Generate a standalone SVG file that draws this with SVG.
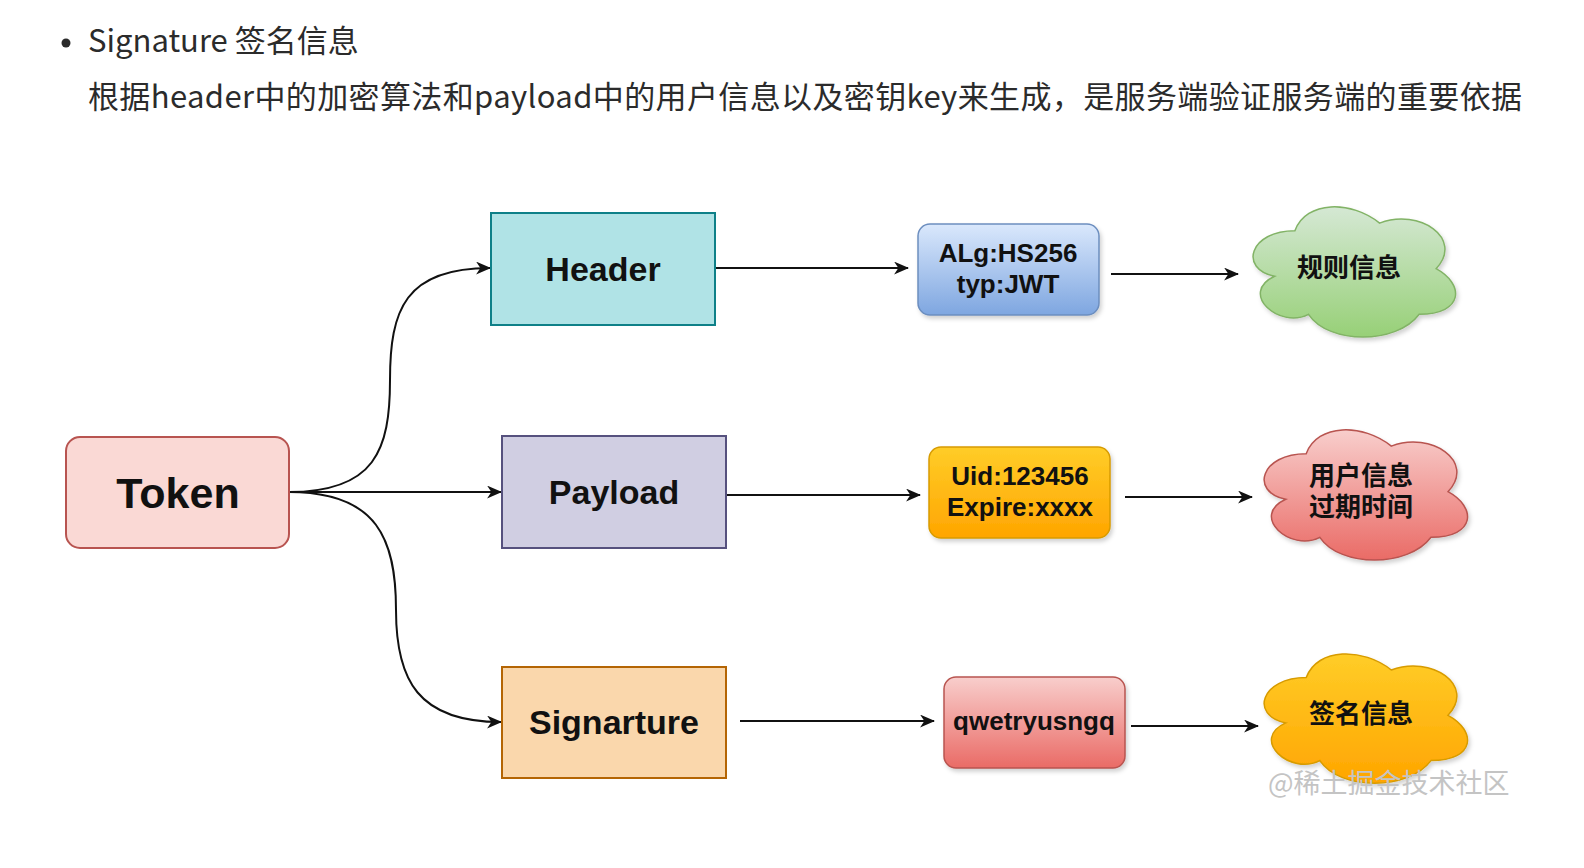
<svg xmlns="http://www.w3.org/2000/svg" width="1584" height="868" viewBox="0 0 1584 868">
<style>
.top{font-family:"Noto Sans CJK SC","Noto Sans",sans-serif;font-size:31px;fill:#2b2b2b}
.lbl{font-family:"Liberation Sans",Arial,sans-serif;font-weight:bold;fill:#111;text-anchor:middle}
.cj{font-family:"Noto Sans CJK SC",sans-serif;font-weight:bold;font-size:26px;fill:#111;text-anchor:middle}
.edge{fill:none;stroke:#111;stroke-width:2}
.wm{font-family:"Noto Sans CJK SC",sans-serif;font-size:27px;fill:#c4c4c4}
.cl{stroke-width:1.5}
</style>
<defs>
<marker id="arr" viewBox="0 0 14 12" refX="13" refY="6" markerWidth="15" markerHeight="13" markerUnits="userSpaceOnUse" orient="auto">
<path d="M0,0 L14,6 L0,12 L4,6 z" fill="#111"/>
</marker>
<linearGradient id="gBlue" x1="0" y1="0" x2="0" y2="1"><stop offset="0" stop-color="#dae8fc"/><stop offset="1" stop-color="#7ea6e0"/></linearGradient>
<linearGradient id="gOr" x1="0" y1="0" x2="0" y2="1"><stop offset="0" stop-color="#ffcd28"/><stop offset="1" stop-color="#ffa500"/></linearGradient>
<linearGradient id="gRed" x1="0" y1="0" x2="0" y2="1"><stop offset="0" stop-color="#f8cecc"/><stop offset="1" stop-color="#ea6b66"/></linearGradient>
<linearGradient id="gGreen" x1="0" y1="0" x2="0" y2="1"><stop offset="0" stop-color="#d5e8d4"/><stop offset="1" stop-color="#97d077"/></linearGradient>
<filter id="sh" x="-10%" y="-10%" width="130%" height="130%">
<feDropShadow dx="2" dy="3" stdDeviation="2" flood-color="#000" flood-opacity="0.18"/>
</filter>
</defs>
<rect width="1584" height="868" fill="#fff"/>

<g id="intro">
<circle cx="66" cy="43" r="4.5" fill="#2b2b2b"/>
<text class="top" x="88" y="52">Signature 签名信息</text>
<text class="top" x="88" y="108" textLength="1434" lengthAdjust="spacing">根据header中的加密算法和payload中的用户信息以及密钥key来生成，是服务端验证服务端的重要依据</text>
</g>

<g id="connectors">
<path class="edge" d="M289,492 C375,492 390,450 390,380 C390,310 405,268 490,268" marker-end="url(#arr)"/>
<path class="edge" d="M289,492 L501,492" marker-end="url(#arr)"/>
<path class="edge" d="M289,492 C378,492 396,540 396,610 C396,680 418,722 501,722" marker-end="url(#arr)"/>
<path class="edge" d="M715,268 L908,268" marker-end="url(#arr)"/>
<path class="edge" d="M1111,274 L1238,274" marker-end="url(#arr)"/>
<path class="edge" d="M726,495 L920,495" marker-end="url(#arr)"/>
<path class="edge" d="M1125,497 L1252,497" marker-end="url(#arr)"/>
<path class="edge" d="M740,721 L934,721" marker-end="url(#arr)"/>
<path class="edge" d="M1131,726 L1258,726" marker-end="url(#arr)"/>
</g>

<g id="token">
<rect x="66" y="437" width="223" height="111" rx="14" fill="#fad9d5" stroke="#b85450" stroke-width="2"/>
<text class="lbl" x="178" y="508" font-size="43">Token</text>
</g>
<g id="header">
<rect x="491" y="213" width="224" height="112" fill="#b0e3e6" stroke="#0e8088" stroke-width="2"/>
<text class="lbl" x="603" y="281" font-size="34">Header</text>
</g>
<g id="payload">
<rect x="502" y="436" width="224" height="112" fill="#d0cee2" stroke="#56517e" stroke-width="2"/>
<text class="lbl" x="614" y="504" font-size="34">Payload</text>
</g>
<g id="signarture">
<rect x="502" y="667" width="224" height="111" fill="#fad7ac" stroke="#b46504" stroke-width="2"/>
<text class="lbl" x="614" y="734" font-size="34">Signarture</text>
</g>

<g id="alg">
<rect x="918" y="224" width="181" height="91" rx="12" fill="url(#gBlue)" stroke="#6c8ebf" stroke-width="1.5" filter="url(#sh)"/>
<text class="lbl" x="1008" y="262" font-size="26">ALg:HS256<tspan x="1008" dy="31">typ:JWT</tspan></text>
</g>
<g id="uid">
<rect x="929" y="447" width="181" height="91" rx="12" fill="url(#gOr)" stroke="#d79b00" stroke-width="1.5" filter="url(#sh)"/>
<text class="lbl" x="1020" y="485" font-size="26">Uid:123456<tspan x="1020" dy="31">Expire:xxxx</tspan></text>
</g>
<g id="qwe">
<rect x="944" y="677" width="181" height="91" rx="12" fill="url(#gRed)" stroke="#b85450" stroke-width="1.5" filter="url(#sh)"/>
<text class="lbl" x="1034" y="730" font-size="26">qwetryusngq</text>
</g>

<g id="cloud-rule">
<path class="cl" filter="url(#sh)" fill="url(#gGreen)" stroke="#82b366" d="M1294.9,230.7 C1249.7,230.7 1238.4,268.7 1274.6,276.3 C1238.4,293.0 1279.1,329.5 1308.5,314.3 C1328.8,344.7 1396.6,344.7 1419.2,314.3 C1464.4,314.3 1464.4,283.9 1436.1,268.7 C1464.4,238.3 1419.2,207.9 1379.6,223.1 C1351.4,200.3 1306.2,200.3 1294.9,230.7 Z"/>
<text class="cj" x="1349" y="277">规则信息</text>
</g>
<g id="cloud-user">
<path class="cl" filter="url(#sh)" fill="url(#gRed)" stroke="#b85450" d="M1306.2,453.7 C1260.8,453.7 1249.4,491.7 1285.7,499.3 C1249.4,516.0 1290.3,552.5 1319.8,537.3 C1340.2,567.7 1408.3,567.7 1431.0,537.3 C1476.4,537.3 1476.4,506.9 1448.0,491.7 C1476.4,461.3 1431.0,430.9 1391.3,446.1 C1362.9,423.3 1317.5,423.3 1306.2,453.7 Z"/>
<text class="cj" x="1361" y="485" font-size="25">用户信息<tspan x="1361" dy="31">过期时间</tspan></text>
</g>
<g id="cloud-sign">
<path class="cl" filter="url(#sh)" fill="url(#gOr)" stroke="#d79b00" d="M1306.2,677.6 C1260.8,677.6 1249.4,715.3 1285.7,722.9 C1249.4,739.5 1290.3,775.7 1319.8,760.6 C1340.2,790.8 1408.3,790.8 1431.0,760.6 C1476.4,760.6 1476.4,730.4 1448.0,715.3 C1476.4,685.1 1431.0,654.9 1391.3,670.0 C1362.9,647.4 1317.5,647.4 1306.2,677.6 Z"/>
<text class="cj" x="1361" y="723">签名信息</text>
</g>

<g id="watermark">
<text class="wm" x="1268" y="793">@稀土掘金技术社区</text>
</g>
</svg>
